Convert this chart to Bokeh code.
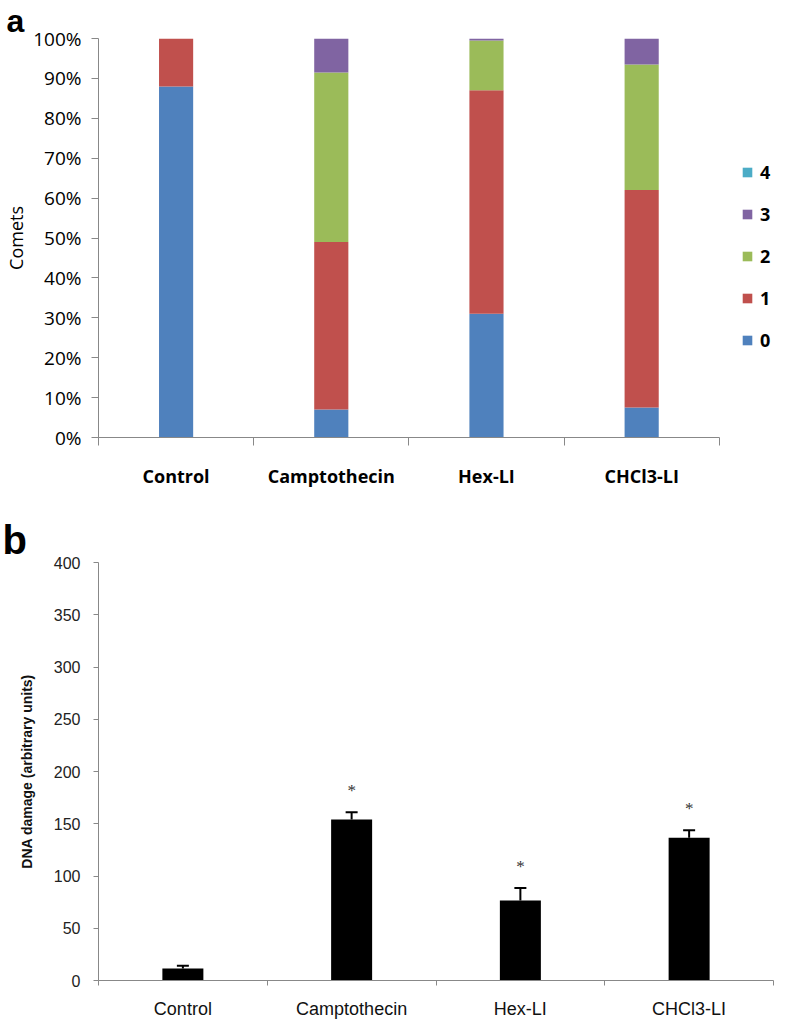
import numpy as np
from bokeh.plotting import figure
from bokeh.models import (ColumnDataSource, Range1d, FixedTicker, Legend, LegendItem,
                          LabelSet, Whisker, TeeHead, PrintfTickFormatter,
                          CustomJSTickFormatter, Title)
from bokeh.layouts import column
from bokeh.embed import file_html
from bokeh.resources import INLINE

# ---------------- data ----------------
categories = ["Control", "Camptothecin", "Hex-LI", "CHCl3-LI"]
grade_names = ["0", "1", "2", "3", "4"]
grade0 = [88.0, 7.0, 31.0, 7.5]
grade1 = [12.0, 42.0, 56.0, 54.5]
grade2 = [0.0, 42.5, 12.5, 31.5]
grade3 = [0.0, 8.5, 0.5, 6.5]
grade4 = [0.0, 0.0, 0.0, 0.0]
pct_ticks = list(range(0, 101, 10))

damage = [11.5, 154.0, 76.5, 136.5]
damage_err = [2.5, 7.0, 12.0, 7.3]
stars = ["", "*", "*", "*"]
damage_ticks = list(range(0, 401, 50))

grade_colors = ["#4F81BD", "#C0504D", "#9BBB59", "#8064A2", "#4BACC6"]
axis_gray = "#888888"

n = len(categories)
xc = (np.arange(n) + 0.5).tolist()
bounds = list(range(n + 1))

tick_fmt = CustomJSTickFormatter(args=dict(labels=categories),
                                 code="const i = Math.floor(tick); return (i >= 0 && i < labels.length) ? labels[i] : '';")

W = 788
# ---------------- panel a ----------------
src1 = ColumnDataSource(dict(x=xc, g0=grade0, g1=grade1, g2=grade2, g3=grade3, g4=grade4))
# frame extends towards the right edge so the legend can sit inside it; the axis line stops at the last category
FR = 780
x_end_a = n * (770 - 98) / (716 - 98)
p1 = figure(width=W, height=514, x_range=Range1d(0, x_end_a), y_range=Range1d(0, 100),
            output_backend="svg", toolbar_location=None,
            min_border_left=98, min_border_right=W - FR, min_border_top=37, min_border_bottom=77)
p1.outline_line_color = None
p1.grid.visible = False
p1.title = Title(text="a", align="left", offset=-92, standoff=0,
                 text_font="Liberation Sans", text_font_style="bold",
                 text_font_size="32px", text_color="black")

rends = p1.vbar_stack(["g0", "g1", "g2", "g3", "g4"], x="x", width=0.22,
                      fill_color=grade_colors, line_color=None, source=src1)

xa = p1.xaxis[0]
xa.bounds = (0, n)
xa.ticker = FixedTicker(ticks=xc, minor_ticks=bounds)
xa.formatter = tick_fmt
xa.axis_line_color = axis_gray
xa.major_tick_out = 0
xa.major_tick_in = 0
xa.minor_tick_out = 8
xa.minor_tick_in = 0
xa.minor_tick_line_color = axis_gray
xa.major_label_standoff = 18
xa.major_label_text_font = "Open Sans"
xa.major_label_text_font_style = "bold"
xa.major_label_text_font_size = "18px"
xa.major_label_text_color = "black"

ya = p1.yaxis[0]
ya.ticker = FixedTicker(ticks=pct_ticks)
ya.formatter = PrintfTickFormatter(format="%d%%")
ya.axis_line_color = axis_gray
ya.major_tick_line_color = axis_gray
ya.major_tick_out = 7
ya.major_tick_in = 0
ya.minor_tick_line_color = None
ya.major_label_standoff = 10
ya.major_label_text_font = "Open Sans"
ya.major_label_text_font_size = "19px"
ya.major_label_text_color = "black"
ya.axis_label = "Comets"
ya.axis_label_text_font = "Open Sans"
ya.axis_label_text_font_style = "normal"
ya.axis_label_text_font_size = "18px"
ya.axis_label_text_color = "black"
ya.axis_label_standoff = 2

items = [LegendItem(label=grade_names[k], renderers=[rends[k]]) for k in reversed(range(len(grade_names)))]
legend = Legend(items=items, location=(643, 85), orientation="vertical",
                border_line_color=None, background_fill_alpha=0,
                padding=0, margin=0, spacing=18, glyph_width=12, glyph_height=12,
                label_height=12, label_width=12, label_standoff=7,
                label_text_font="Open Sans", label_text_font_style="bold",
                label_text_font_size="18px", label_text_color="black")
p1.add_layout(legend)

# ---------------- panel b ----------------
upper = np.add(damage, damage_err).tolist()
src2 = ColumnDataSource(dict(x=xc, damage=damage, upper=upper, star=stars))
p2 = figure(width=W, height=507, x_range=Range1d(0, n), y_range=Range1d(0, 400),
            output_backend="svg", toolbar_location=None,
            min_border_left=98, min_border_right=15, min_border_top=47, min_border_bottom=39)
p2.outline_line_color = None
p2.grid.visible = False
p2.title = Title(text="b", align="left", offset=-96, standoff=2,
                 text_font="Liberation Sans", text_font_style="bold",
                 text_font_size="40px", text_color="black")

p2.vbar(x="x", top="damage", width=0.243, fill_color="black", line_color=None, source=src2)
p2.add_layout(Whisker(source=src2, base="x", lower="damage", upper="upper", dimension="height",
                      line_width=2, line_color="black",
                      upper_head=TeeHead(size=12, line_width=2, line_color="black"),
                      lower_head=None))
p2.add_layout(LabelSet(source=src2, x="x", y="upper", text="star", y_offset=16,
                       text_align="center", text_baseline="alphabetic",
                       text_font="Liberation Sans", text_font_size="17px", text_color="#333333"))

xb = p2.xaxis[0]
xb.ticker = FixedTicker(ticks=xc, minor_ticks=bounds)
xb.formatter = tick_fmt
xb.axis_line_color = axis_gray
xb.major_tick_out = 0
xb.major_tick_in = 0
xb.minor_tick_out = 5
xb.minor_tick_in = 0
xb.minor_tick_line_color = axis_gray
xb.major_label_standoff = 13
xb.major_label_text_font = "Liberation Sans"
xb.major_label_text_font_size = "18px"
xb.major_label_text_color = "#111111"

yb = p2.yaxis[0]
yb.ticker = FixedTicker(ticks=damage_ticks)
yb.axis_line_color = axis_gray
yb.major_tick_line_color = axis_gray
yb.major_tick_out = 5
yb.major_tick_in = 0
yb.minor_tick_line_color = None
yb.major_label_standoff = 13
yb.major_label_text_font = "Liberation Sans"
yb.major_label_text_font_size = "16px"
yb.major_label_text_color = "#222222"
yb.axis_label = "DNA damage (arbitrary units)"
yb.axis_label_text_font = "Liberation Sans"
yb.axis_label_text_font_style = "bold"
yb.axis_label_text_font_size = "14px"
yb.axis_label_text_color = "#111111"
yb.axis_label_standoff = 16

layout = column(p1, p2, spacing=0)
open("out.html", "w").write(file_html(layout, INLINE))
